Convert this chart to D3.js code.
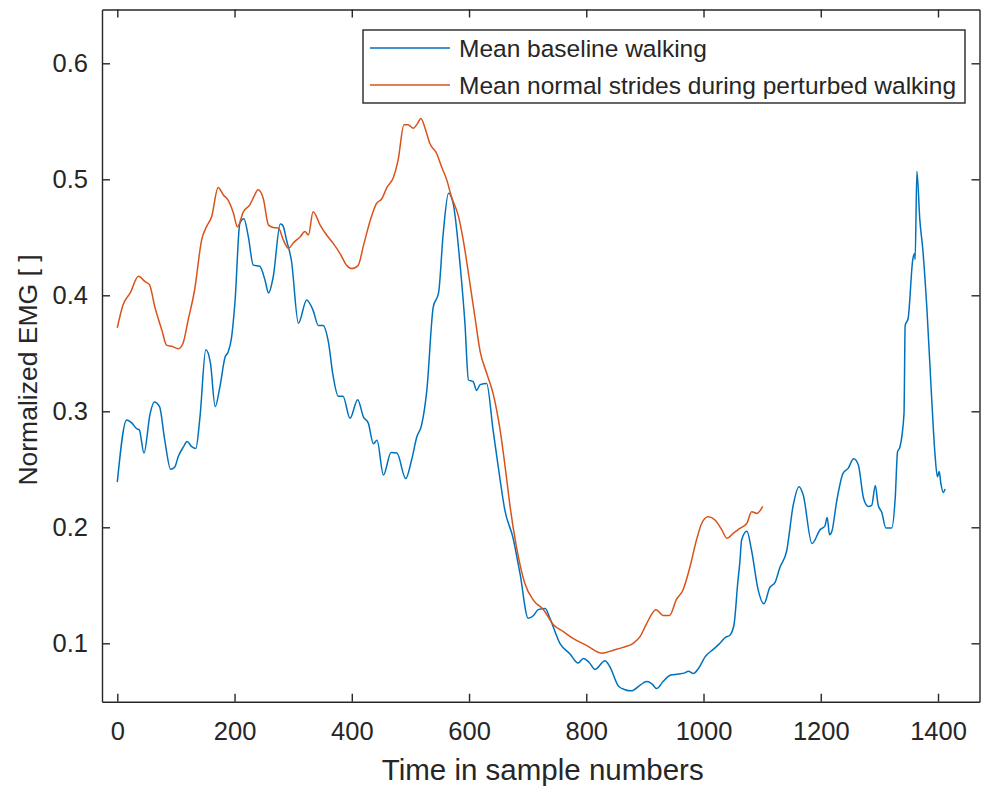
<!DOCTYPE html>
<html>
<head>
<meta charset="utf-8">
<script src="https://cdn.jsdelivr.net/npm/d3@7"></script>
<style>
  html, body { margin: 0; padding: 0; background: #fff; }
  svg { display: block; }
  text { font-family: "Liberation Sans", Arial, Helvetica, sans-serif; fill: #262626; }
</style>
</head>
<body>
<svg id="chart" width="981" height="789"></svg>
<script>
// ---------- data ----------
const xTicks = [0, 200, 400, 600, 800, 1000, 1200, 1400];
const yTicks = [0.1, 0.2, 0.3, 0.4, 0.5, 0.6];
const seriesNames = ["Mean baseline walking", "Mean normal strides during perturbed walking"];
const xLabel = "Time in sample numbers";
const yLabel = "Normalized EMG [ ]";

const baselineX = [0,16,24.6,33,37.5,45.5,56,63,72,81,91,98,104,113,119,127,134,141,151,159,167,175,184,189,195,201,209,216,223.5,232,243,252,258,266,278,282,289,297,309,323,334,343,351,360,368,377,385,397,410,420,428,437,443,454,467,477,492,502,511,519,528,539,548,556,565,573,585,593,599,607,613,619,630,641,653,661,675,687,701,710,718,730,738,755,772,786,795,805,815,832,840,855,866,877,892,903,912,920,931,943,957,968,974,983,991,1003,1017,1028,1037,1045,1052,1054,1058,1062,1065,1074,1082,1093,1103,1113,1122,1130,1142,1153,1163,1170,1185,1199,1207,1211,1215,1219,1227,1238,1247,1256,1264,1273,1281,1287,1293,1298,1304,1311,1321,1327,1331,1335,1342,1344,1349,1357,1360,1361,1364,1369,1374,1381,1389,1395,1399,1402,1405,1409,1412];
const baselineY = [0.239,0.2925,0.290,0.285,0.284,0.264,0.298,0.308,0.304,0.275,0.250,0.252,0.261,0.2695,0.274,0.2695,0.268,0.295,0.353,0.341,0.304,0.321,0.347,0.351,0.364,0.396,0.462,0.466,0.4505,0.426,0.425,0.413,0.402,0.416,0.4615,0.4605,0.447,0.430,0.376,0.396,0.387,0.374,0.374,0.360,0.331,0.313,0.313,0.294,0.310,0.295,0.290,0.272,0.275,0.245,0.2645,0.264,0.242,0.258,0.278,0.288,0.318,0.390,0.402,0.4535,0.488,0.479,0.425,0.376,0.327,0.3255,0.318,0.323,0.324,0.284,0.241,0.215,0.191,0.160,0.1215,0.124,0.129,0.130,0.1215,0.100,0.091,0.083,0.087,0.0835,0.0775,0.085,0.080,0.063,0.060,0.059,0.064,0.067,0.065,0.061,0.067,0.0725,0.0735,0.0745,0.076,0.074,0.078,0.0885,0.095,0.100,0.105,0.107,0.116,0.125,0.150,0.170,0.189,0.1965,0.180,0.1465,0.134,0.148,0.1525,0.165,0.180,0.219,0.235,0.228,0.186,0.198,0.201,0.2085,0.1935,0.1965,0.222,0.2465,0.251,0.259,0.254,0.225,0.218,0.219,0.236,0.219,0.213,0.1995,0.1995,0.225,0.265,0.269,0.298,0.374,0.380,0.431,0.436,0.431,0.507,0.465,0.440,0.389,0.313,0.262,0.2435,0.248,0.2375,0.230,0.233];

const perturbedX = [0,10,22,36,47,55,64,76,84,93,104,112,121,132,144,152,161,172,181,189,198,205,215,226,233,240,249,258,266,275,283,292,300,312,320,326,334,346,357,368,380,391,400,411,420,433,442,451,460,471,479,489,496,505,512,518,525,533,545,553,562,570,582,590,599,610,619,630,641,653,664,670,681,695,710,727,744,761,778,801,826,846,863,880,892,903,919,931,942,954,965,977,988,997,1008,1020,1031,1040,1051,1062,1074,1082,1091,1101];
const perturbedY = [0.372,0.392,0.402,0.4165,0.412,0.409,0.390,0.370,0.357,0.356,0.354,0.3585,0.379,0.405,0.448,0.459,0.468,0.493,0.4865,0.482,0.471,0.459,0.472,0.478,0.485,0.491,0.4835,0.4605,0.4585,0.458,0.448,0.4405,0.445,0.4505,0.455,0.452,0.472,0.4605,0.452,0.445,0.436,0.426,0.423,0.426,0.443,0.467,0.479,0.483,0.493,0.5015,0.5165,0.547,0.547,0.544,0.548,0.5525,0.544,0.531,0.522,0.511,0.4995,0.485,0.468,0.448,0.419,0.3815,0.3515,0.333,0.3155,0.284,0.2425,0.218,0.183,0.152,0.137,0.129,0.116,0.110,0.104,0.098,0.0915,0.094,0.0965,0.100,0.106,0.117,0.129,0.124,0.124,0.138,0.146,0.166,0.189,0.2035,0.209,0.206,0.198,0.1905,0.195,0.199,0.2035,0.2135,0.212,0.218];

const colors = ["#0072BD", "#D95319"];

// ---------- layout ----------
const svg = d3.select("#chart");
const L = 102, R = 979.5, T = 9.5, B = 701.7;
const px0 = 117.3, pxPerUnit = (938 - 117.3) / 1400;
const x = d3.scaleLinear()
  .domain([(L - px0) / pxPerUnit, (R - px0) / pxPerUnit])
  .range([L, R]);
const py01 = 643.3, pyPerUnit = 1160;
const y = d3.scaleLinear()
  .domain([0.1 - (B - py01) / pyPerUnit, 0.1 + (py01 - T) / pyPerUnit])
  .range([B, T]);

const axisColor = "#262626";
const tickFont = 25.5;

// lines
const line = d3.line().x(d => x(d[0])).y(d => y(d[1])).curve(d3.curveMonotoneX);
const series = [
  d3.zip(baselineX, baselineY),
  d3.zip(perturbedX, perturbedY)
];
svg.append("clipPath").attr("id", "clip")
  .append("rect").attr("x", L).attr("y", T).attr("width", R - L).attr("height", B - T);
series.forEach((s, i) => {
  svg.append("path")
    .datum(s)
    .attr("clip-path", "url(#clip)")
    .attr("fill", "none")
    .attr("stroke", colors[i])
    .attr("stroke-width", 1.5)
    .attr("stroke-linejoin", "round")
    .attr("d", line);
});

// axes (ticks inside, MATLAB-like box)
const tickLen = 8;
const gx = svg.append("g").attr("transform", `translate(0,${B})`)
  .call(d3.axisBottom(x).tickValues(xTicks).tickSizeInner(-tickLen).tickSizeOuter(0).tickPadding(tickLen + 12).tickFormat(d3.format("d")));
const gxTop = svg.append("g").attr("transform", `translate(0,${T})`)
  .call(d3.axisTop(x).tickValues(xTicks).tickSizeInner(-tickLen).tickSizeOuter(0).tickFormat(""));
const gy = svg.append("g").attr("transform", `translate(${L},0)`)
  .call(d3.axisLeft(y).tickValues(yTicks).tickSizeInner(-tickLen).tickSizeOuter(0).tickPadding(tickLen + 6).tickFormat(d3.format(".1f")));
const gyR = svg.append("g").attr("transform", `translate(${R},0)`)
  .call(d3.axisRight(y).tickValues(yTicks).tickSizeInner(-tickLen).tickSizeOuter(0).tickFormat(""));

[gx, gxTop, gy, gyR].forEach(g => {
  g.select(".domain").attr("stroke", axisColor).attr("stroke-width", 1.4);
  g.selectAll(".tick line").attr("stroke", axisColor).attr("stroke-width", 1.4);
  g.selectAll(".tick text")
    .attr("fill", axisColor)
    .style("font-family", '"Liberation Sans", Arial, sans-serif')
    .style("font-size", tickFont + "px");
});

// axis labels
svg.append("text")
  .attr("x", (L + R) / 2 + 2)
  .attr("y", 780)
  .attr("text-anchor", "middle")
  .style("font-size", "29.5px")
  .text(xLabel);
svg.append("text")
  .attr("transform", `translate(37,370) rotate(-90)`)
  .attr("text-anchor", "middle")
  .style("font-size", "26.5px")
  .text(yLabel);

// legend
const lg = svg.append("g");
lg.append("rect")
  .attr("x", 363).attr("y", 30)
  .attr("width", 602).attr("height", 73)
  .attr("fill", "#fff")
  .attr("stroke", axisColor)
  .attr("stroke-width", 1.4);
seriesNames.forEach((name, i) => {
  const cy = 48 + i * 37;
  lg.append("line")
    .attr("x1", 370).attr("x2", 450)
    .attr("y1", cy).attr("y2", cy)
    .attr("stroke", colors[i]).attr("stroke-width", 1.5);
  lg.append("text")
    .attr("x", 459).attr("y", cy)
    .attr("dominant-baseline", "central")
    .style("font-size", "24.5px")
    .text(name);
});
</script>
</body>
</html>
